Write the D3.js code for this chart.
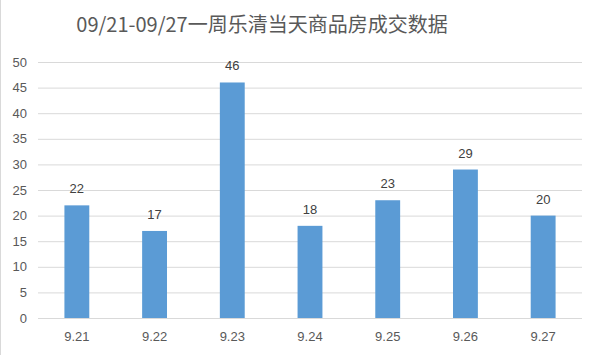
<!DOCTYPE html>
<html><head><meta charset="utf-8">
<script src="https://cdn.jsdelivr.net/npm/d3@7"></script>
<style>body{margin:0;background:#fff}svg{display:block}</style>
</head><body>
<script>
const title = "09/21-09/27一周乐清当天商品房成交数据";
const categories = ["9.21","9.22","9.23","9.24","9.25","9.26","9.27"];
const values = [22,17,46,18,23,29,20];
const yTicks = [0,5,10,15,20,25,30,35,40,45,50];

const W=595,H=355;
const m={left:38,right:13,top:62,bottom:37};
const svg=d3.select("body").append("svg").attr("width",W).attr("height",H);
svg.append("line").attr("x1",0.5).attr("x2",0.5).attr("y1",0).attr("y2",H).attr("stroke","#d9d9d9");
const font="'Liberation Sans','Noto Sans CJK SC',sans-serif";
svg.append("text").attr("x",262).attr("y",32).attr("text-anchor","middle")
  .attr("font-family","'Noto Sans CJK SC',sans-serif").attr("font-size",20).attr("fill","#595959").text(title);

const x=d3.scaleBand().domain(categories).range([m.left,W-m.right]).paddingInner(0.68).paddingOuter(0.34);
const y=d3.scaleLinear().domain([0,50]).range([H-m.bottom,m.top]);

const gy=svg.append("g").attr("transform",`translate(${m.left},0)`)
  .call(d3.axisLeft(y).tickValues(yTicks).tickSize(-(W-m.left-m.right)).tickPadding(11));
gy.select(".domain").remove();
gy.selectAll(".tick line").attr("stroke","#d9d9d9");
gy.selectAll(".tick text").attr("font-family",font).attr("font-size",13).attr("fill","#595959");

svg.selectAll("rect.bar").data(values).join("rect").attr("class","bar")
  .attr("x",(d,i)=>x(categories[i])).attr("width",x.bandwidth())
  .attr("y",d=>y(d)).attr("height",d=>y(0)-y(d)).attr("fill","#5b9bd5");

svg.selectAll("text.val").data(values).join("text").attr("class","val")
  .attr("x",(d,i)=>x(categories[i])+x.bandwidth()/2).attr("y",d=>y(d)-12)
  .attr("text-anchor","middle").attr("font-family",font).attr("font-size",13).attr("fill","#404040").text(d=>d);

const gx=svg.append("g").attr("transform",`translate(0,${y(0)})`)
  .call(d3.axisBottom(x).tickSize(0).tickPadding(14));
gx.select(".domain").remove();
gx.selectAll(".tick text").attr("font-family",font).attr("font-size",13).attr("fill","#595959");
</script>
</body></html>
